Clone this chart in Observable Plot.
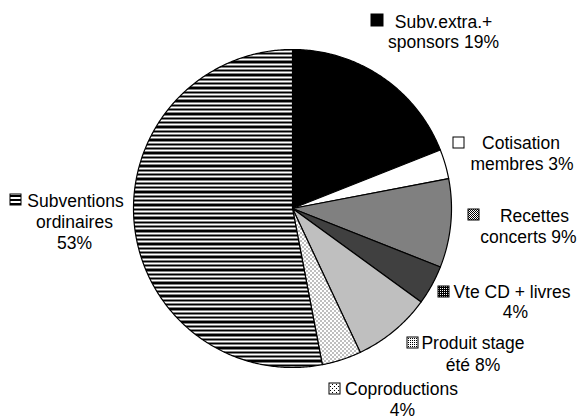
<!DOCTYPE html>
<html><head><meta charset="utf-8">
<script src="https://cdn.jsdelivr.net/npm/d3@7"></script>
<script src="https://cdn.jsdelivr.net/npm/@observablehq/plot@0.6"></script>
<style>body{margin:0;background:#fff}#chart{width:585px;height:418px}</style>
</head><body>
<div id="chart"></div>
<script>
// ---- data ----
const categories = ["Subv.extra.+ sponsors", "Cotisation membres", "Recettes concerts", "Vte CD + livres", "Produit stage été", "Coproductions", "Subventions ordinaires"];
const shares = [19, 3, 9, 4, 8, 4, 53];
const labelWords = [["Subv.extra.+", "sponsors"], ["Cotisation", "membres"], ["Recettes", "concerts"], ["Vte CD + livres", ""], ["Produit stage", "été"], ["Coproductions", ""], ["Subventions", "ordinaires", ""]];
const fills = ["#000", "#fff", "url(#pRec)", "url(#pVte)", "url(#pStage)", "url(#pCopro)", "url(#pStripe)"];

// ---- layout (pixel space) ----
const pie = {cx: 292, cy: 208, r: 159};
const keyPos = [[371, 14, 12], [453, 137, 11], [468, 209, 11], [438, 286, 11], [407, 337, 11], [329, 383, 11], [10, 194, 11]];
const linePos = [
  [[443, 27], [443, 47]],
  [[520.5, 148], [521.5, 169]],
  [[534, 221], [528, 242]],
  [[511.5, 297], [515, 317]],
  [[472.5, 348], [472.5, 370]],
  [[401, 394], [402, 415]],
  [[75, 206], [74, 227], [74, 248]]
];

// ---- geometry ----
const arcs = d3.pie().sort(null).startAngle(0).endAngle(2 * Math.PI)(shares);
const slicePts = [];
arcs.forEach((a, i) => {
  const name = categories[i];
  slicePts.push({name, x: pie.cx, y: pie.cy});
  const n = Math.max(2, Math.ceil((a.endAngle - a.startAngle) / 0.01));
  for (let k = 0; k <= n; k++) {
    const t = a.startAngle + (a.endAngle - a.startAngle) * k / n;
    slicePts.push({name, x: pie.cx + pie.r * Math.sin(t), y: pie.cy - pie.r * Math.cos(t)});
  }
});

const keys = categories.map((name, i) => ({name, x1: keyPos[i][0], y1: keyPos[i][1], x2: keyPos[i][0] + keyPos[i][2], y2: keyPos[i][1] + keyPos[i][2]}));
const textRows = [];
labelWords.forEach((words, i) => {
  words.forEach((w, j) => {
    let t = w;
    if (j === words.length - 1) t = (w ? w + " " : "") + shares[i] + "%";
    textRows.push({text: t, x: linePos[i][j][0], y: linePos[i][j][1]});
  });
});

const svg = Plot.plot({
  width: 585, height: 418, margin: 0,
  style: {fontFamily: "'Liberation Sans', Arial, sans-serif", background: "#fff"},
  x: {domain: [0, 585], range: [0, 585], axis: null},
  y: {domain: [0, 418], range: [0, 418], axis: null},
  color: {domain: categories, range: fills},
  marks: [
    Plot.line(slicePts, {x: "x", y: "y", z: "name", fill: "name", stroke: "#000", strokeWidth: 1.2, curve: "linear-closed"}),
    Plot.rect(keys, {x1: "x1", x2: "x2", y1: "y1", y2: "y2", fill: "name", stroke: "#000", strokeWidth: 1}),
    Plot.text(textRows, {x: "x", y: "y", text: "text", textAnchor: "middle", lineAnchor: "bottom", fontSize: 17.5, fill: "#000"})
  ]
});

const defs = d3.select(svg).insert("defs", ":first-child");
function pat(id, w, h, bg, rects) {
  const p = defs.append("pattern").attr("id", id).attr("width", w).attr("height", h).attr("patternUnits", "userSpaceOnUse");
  p.append("rect").attr("width", w).attr("height", h).attr("fill", bg);
  rects.forEach(([x, y, rw, rh, c]) => p.append("rect").attr("x", x).attr("y", y).attr("width", rw).attr("height", rh).attr("fill", c).attr("shape-rendering", "crispEdges"));
}
pat("pRec", 2, 2, "#fff", [[0, 0, 1, 1, "#000"], [1, 1, 1, 1, "#000"]]);
pat("pVte", 2, 2, "#000", [[0, 0, 1, 1, "#fff"]]);
pat("pStage", 2, 2, "#fff", [[0, 0, 1, 1, "#000"]]);
pat("pCopro", 4, 4, "#fff", [[0, 0, 1, 1, "#000"], [2, 2, 1, 1, "#000"]]);
pat("pStripe", 4, 13, "#fff", [[0, 0, 4, 2, "#000"], [0, 4, 4, 2, "#000"], [0, 8, 4, 3, "#000"]]);

document.getElementById("chart").appendChild(svg);
</script>
</body></html>
